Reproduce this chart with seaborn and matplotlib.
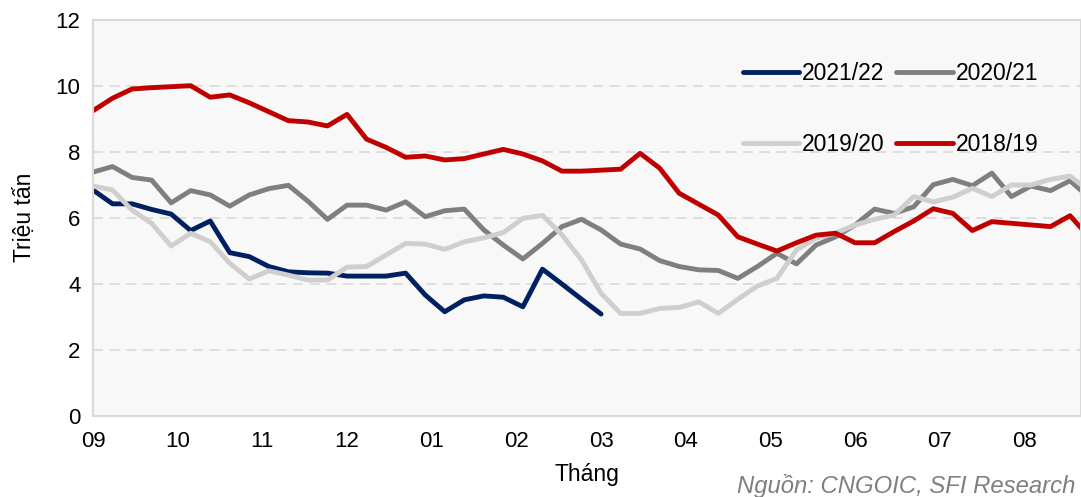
import matplotlib
matplotlib.use("Agg")
import matplotlib.pyplot as plt
import seaborn as sns
import pandas as pd

# weekly stock levels (million tonnes), week 0 = start of September
months = ["09", "10", "11", "12", "01", "02", "03", "04", "05", "06", "07", "08"]

s_2021_22 = [6.84, 6.42, 6.42, 6.25, 6.11, 5.61, 5.9, 4.94, 4.82, 4.52,
             4.36, 4.33, 4.32, 4.23, 4.23, 4.23, 4.32, 3.66, 3.15, 3.51,
             3.63, 3.59, 3.3, 4.44, 3.99, 3.53, 3.08]

s_2020_21 = [7.38, 7.55, 7.22, 7.14, 6.45, 6.82, 6.69, 6.35, 6.69, 6.88,
             6.98, 6.5, 5.95, 6.38, 6.38, 6.23, 6.48, 6.03, 6.21, 6.26,
             5.63, 5.17, 4.75, 5.22, 5.73, 5.95, 5.63, 5.2, 5.05, 4.7,
             4.52, 4.42, 4.4, 4.16, 4.52, 4.92, 4.6, 5.17, 5.42, 5.78,
             6.26, 6.13, 6.33, 7.0, 7.16, 6.97, 7.35, 6.64, 6.96, 6.82,
             7.12, 6.6]

s_2019_20 = [6.96, 6.84, 6.23, 5.83, 5.14, 5.53, 5.27, 4.62, 4.14, 4.39,
             4.26, 4.11, 4.11, 4.5, 4.52, 4.87, 5.22, 5.2, 5.04, 5.27,
             5.39, 5.55, 5.98, 6.07, 5.48, 4.72, 3.71, 3.1, 3.1, 3.25,
             3.28, 3.45, 3.1, 3.53, 3.93, 4.16, 5.02, 5.38, 5.53, 5.78,
             5.95, 6.08, 6.64, 6.48, 6.62, 6.89, 6.64, 6.99, 6.99, 7.16,
             7.26, 6.8]

s_2018_19 = [9.24, 9.62, 9.90, 9.94, 9.97, 10.0, 9.65, 9.72, 9.48, 9.21,
             8.94, 8.9, 8.78, 9.13, 8.38, 8.13, 7.83, 7.87, 7.75, 7.79,
             7.93, 8.07, 7.93, 7.72, 7.41, 7.41, 7.44, 7.47, 7.95, 7.5,
             6.74, 6.41, 6.08, 5.42, 5.2, 4.99, 5.24, 5.47, 5.53, 5.24,
             5.24, 5.58, 5.9, 6.27, 6.13, 5.61, 5.88, 5.83, 5.78, 5.73,
             6.06, 5.4]

series = [
    ("2021/22", s_2021_22, "#002060"),
    ("2020/21", s_2020_21, "#7f7f7f"),
    ("2019/20", s_2019_20, "#d0cece"),
    ("2018/19", s_2018_19, "#c00000"),
]


def main():
    sns.set_style("white")
    plt.rcParams['font.family'] = ['Liberation Sans', 'DejaVu Sans']
    plt.rcParams['text.color'] = 'black'
    plt.rcParams['axes.labelcolor'] = 'black'
    plt.rcParams['xtick.color'] = 'black'
    plt.rcParams['ytick.color'] = 'black'

    fig = plt.figure(figsize=(10.81, 4.97), dpi=100)
    ax = fig.add_axes([0.086, 0.1636, 0.914, 0.7968])
    ax.set_facecolor("#f8f8f8")

    for name, vals, color in series:
        df = pd.DataFrame({"week": range(len(vals)), "value": vals})
        sns.lineplot(x="week", y="value", data=df, color=color, lw=3.5,
                     label=name, ax=ax)

    ax.set_xlim(0, 50.56)
    ax.set_ylim(0, 12)
    ax.set_yticks(range(0, 13, 2))
    ax.set_xticks([i * 52 / 12 for i in range(12)])
    ax.set_xticklabels(months)
    ax.tick_params(axis="both", length=0, labelsize=16)
    ax.tick_params(axis="x", pad=11)
    ax.tick_params(axis="y", pad=9)

    ax.yaxis.grid(True, ls=(0, (6, 4)), color="#d9d9d9", lw=1.2)
    ax.xaxis.grid(False)
    for sp in ax.spines.values():
        sp.set_color("#d9d9d9")
        sp.set_linewidth(1.5)

    ax.set_xlabel("Tháng", fontsize=16.5)
    ax.set_ylabel("Triệu tấn", fontsize=16.5)
    ax.xaxis.set_label_coords(0.5, -0.12)
    ax.yaxis.set_label_coords(-0.058, 0.5)

    handles, labels = ax.get_legend_handles_labels()
    order = [0, 2, 1, 3]
    ax.legend([handles[i] for i in order], [labels[i] for i in order],
              ncol=2, loc="upper left", bbox_to_anchor=(0.646, 0.923),
              frameon=False, fontsize=16.5, borderpad=0, handlelength=2.45,
              handletextpad=0.15, columnspacing=0.5, labelspacing=2.1)

    fig.text(0.9945, 0.022, "Nguồn: CNGOIC, SFI Research", ha="right",
             va="center", style="italic", color="#7f7f7f", fontsize=17.2)

    fig.savefig("out.png", dpi=100)
    plt.close(fig)


if __name__ == "__main__":
    main()
